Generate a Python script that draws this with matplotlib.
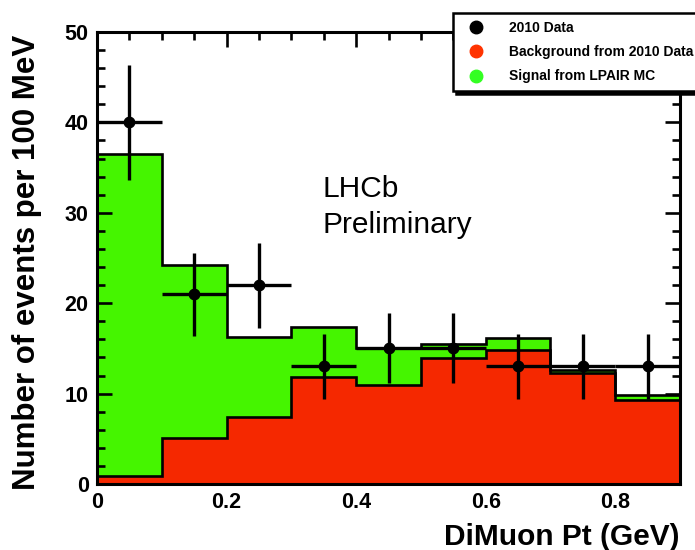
import numpy as np
import matplotlib
matplotlib.use("Agg")
import matplotlib.pyplot as plt
from matplotlib.lines import Line2D
from matplotlib.ticker import MultipleLocator

# ---- data ----
bin_edges = [0.0, 0.1, 0.2, 0.3, 0.4, 0.5, 0.6, 0.7, 0.8, 0.9]
background = [0.9, 5.1, 7.4, 11.8, 10.9, 13.9, 14.8, 12.3, 9.3]
total_mc = [36.5, 24.2, 16.3, 17.4, 15.0, 15.5, 16.2, 12.6, 9.9]
data_counts = [40, 21, 22, 13, 15, 15, 13, 13, 13]
x_ticks = [0, 0.2, 0.4, 0.6, 0.8]
x_ticklabels = ["0", "0.2", "0.4", "0.6", "0.8"]
y_ticks = [0, 10, 20, 30, 40, 50]
legend_labels = ["2010 Data", "Background from 2010 Data", "Signal from LPAIR MC"]

GREEN = "#45f500"
RED = "#f52800"
FONT = ["Liberation Sans", "DejaVu Sans"]

plt.rcParams["font.family"] = FONT

fig = plt.figure(figsize=(6.95, 5.5), dpi=100)
ax = fig.add_axes([97 / 695, 1 - 484 / 550, (680 - 97) / 695, (484 - 32) / 550])

edges = np.array(bin_edges)
bg = np.array(background)
tot = np.array(total_mc)
dat = np.array(data_counts, dtype=float)

lw = 1.9
ax.stairs(tot, edges, fill=True, color=GREEN, zorder=1)
ax.stairs(bg, edges, fill=True, color=RED, zorder=2)
ax.stairs(tot, edges, color="black", lw=lw, zorder=3, baseline=None)
ax.stairs(bg, edges, color="black", lw=lw, zorder=3, baseline=None)

centers = 0.5 * (edges[:-1] + edges[1:])
half = 0.5 * np.diff(edges)
ax.errorbar(centers, dat, xerr=half, yerr=np.sqrt(dat), fmt="o", color="black",
            ms=7.5, elinewidth=2.4, capsize=0, zorder=5)

ax.set_xlim(0, 0.9)
ax.set_ylim(0, 50)
ax.set_xticks(x_ticks)
ax.set_xticklabels(x_ticklabels)
ax.set_yticks(y_ticks)
ax.xaxis.set_minor_locator(MultipleLocator(0.05))
ax.yaxis.set_minor_locator(MultipleLocator(2))
ax.tick_params(which="both", direction="in", top=True, right=True, width=1.9,
               labelsize=15.5, pad=6)
ax.tick_params(which="major", length=11)
ax.tick_params(which="minor", length=6)
for lab in ax.get_xticklabels() + ax.get_yticklabels():
    lab.set_fontweight("bold")
for s in ax.spines.values():
    s.set_linewidth(2.2)
    s.set_zorder(6)

ax.set_ylabel("Number of events per 100 MeV", fontsize=22.5, fontweight="bold")
ax.yaxis.set_label_coords(-0.094, 0.49)
fig.text(680 / 695, 1 - 537 / 550, "DiMuon Pt (GeV)", fontsize=21.5,
         fontweight="bold", ha="right", va="center")

ax.text(0.348, 31.7, "LHCb", fontsize=21.5, ha="left", va="baseline")
ax.text(0.348, 27.8, "Preliminary", fontsize=21.5, ha="left", va="baseline")

handles = [
    Line2D([], [], marker="o", ls="none", color="black", ms=9),
    Line2D([], [], marker="o", ls="none", color="#ff3300", ms=9),
    Line2D([], [], marker="o", ls="none", color="#33ff22", ms=9),
]
leg = fig.legend(handles, legend_labels, loc="upper left",
                 bbox_to_anchor=(453 / 695, 1 - 13 / 550, (705 - 453) / 695, 0.0),
                 bbox_transform=fig.transFigure, mode="expand",
                 fancybox=False, framealpha=1, edgecolor="black",
                 shadow={"color": "black", "alpha": 1},
                 handletextpad=1.3, borderpad=0.55, labelspacing=0.75,
                 handlelength=2.2, borderaxespad=0,
                 prop={"family": ["Liberation Sans"], "weight": "bold", "size": 10})
leg.get_frame().set_linewidth(1.8)

fig.savefig("out.png", dpi=100)
